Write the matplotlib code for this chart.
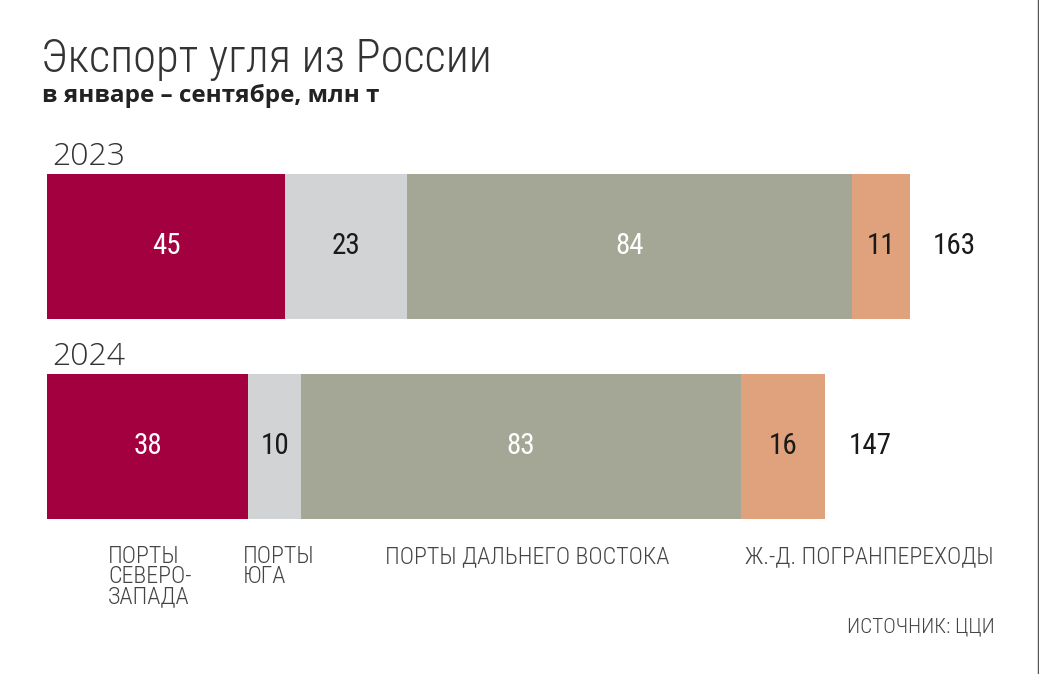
import matplotlib
matplotlib.use("Agg")
import matplotlib.pyplot as plt
from matplotlib import font_manager as fm
from matplotlib.lines import Line2D

# ---- data ----
years = ["2023", "2024"]
categories = ["ПОРТЫ\nСЕВЕРО-\nЗАПАДА", "ПОРТЫ\nЮГА", "ПОРТЫ ДАЛЬНЕГО ВОСТОКА", "Ж.-Д. ПОГРАНПЕРЕХОДЫ"]
values_2023 = [45, 23, 84, 11]
values_2024 = [38, 10, 83, 16]
totals = [163, 147]
title = "Экспорт угля из России"
subtitle = "в январе – сентябре, млн т"
source = "ИСТОЧНИК: ЦЦИ"

colors = ["#A3003F", "#D1D3D4", "#A4A796", "#E0A27C"]
text_colors = ["white", "#1a1a1a", "white", "#1a1a1a"]

names = {f.name for f in fm.fontManager.ttflist}
if "Roboto Condensed" in names:
    narrow = ["Roboto Condensed", "DejaVu Sans"]
elif "Liberation Sans Narrow" in names:
    narrow = ["Liberation Sans Narrow", "DejaVu Sans"]
else:
    narrow = ["Roboto", "DejaVu Sans"]
light = ["Open Sans", "DejaVu Sans"]

W, H = 1039, 674
fig = plt.figure(figsize=(W / 100, H / 100), dpi=100)
fig.patch.set_facecolor("white")

def fx(px):
    return px / W

def fy(py):
    return 1 - py / H

x0 = 47
px_per_unit = 863 / 163
ax_w = 1039 - x0
ax = fig.add_axes([fx(x0), fy(519), ax_w / W, (519 - 174) / H])
ax.set_xlim(0, ax_w / px_per_unit)
bar_h = 0.725
ax.set_ylim(1 + bar_h / 2, -bar_h / 2)
ax.axis("off")

series = [values_2023, values_2024]
for yi, vals in enumerate(series):
    left = 0
    for ci, v in enumerate(vals):
        ax.barh(yi, v, left=left, height=bar_h, color=colors[ci], edgecolor="none")
        ax.text(left + v / 2, yi, str(v), ha="center", va="center",
                fontsize=21, color=text_colors[ci], family=narrow)
        left += v
    ax.text(left + 23 / px_per_unit, yi, str(totals[yi]),
            ha="left", va="center", fontsize=21, fontweight="normal",
            color="#1a1a1a", family=narrow)

# titles
fig.text(fx(41), fy(72), title, fontsize=33.5, fontweight="light", color="#333333",
         family=narrow, ha="left", va="baseline")
fig.text(fx(42), fy(102), subtitle, fontsize=17.5, fontweight="bold", color="#222222",
         family=light, ha="left", va="baseline")
for yi, yb in zip(range(2), [165, 365]):
    fig.text(fx(52), fy(yb), years[yi], fontsize=23, fontweight="light", color="#333333",
             family=light, ha="left", va="baseline")

# category labels
cat_x = [108, 243, 385, 745]
for cx, lab in zip(cat_x, categories):
    fig.text(fx(cx), fy(545), lab, fontsize=17.3, fontweight="light", color="#444444",
             family=narrow, ha="left", va="top", linespacing=0.84)

fig.text(fx(995), fy(632), source, fontsize=15.3, fontweight="light", color="#444444",
         family=narrow, ha="right", va="baseline")

# thin frame line at the right edge
fig.add_artist(Line2D([fx(1037.5), fx(1037.5)], [0, 1], color="#555555", lw=1.0,
                      transform=fig.transFigure))

fig.savefig("out.png", dpi=100, facecolor="white")
